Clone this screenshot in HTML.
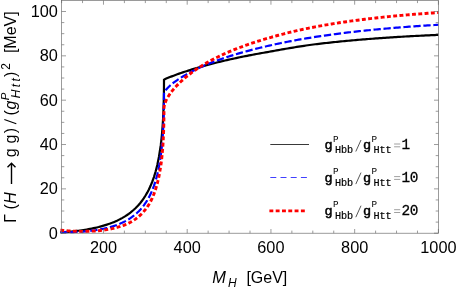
<!DOCTYPE html>
<html><head><meta charset="utf-8"><style>
html,body{margin:0;padding:0;background:#fff;}
body{width:458px;height:289px;overflow:hidden;}
svg{display:block;will-change:transform;font-family:"Liberation Sans",sans-serif;}
.mono{font-family:"Liberation Mono",monospace;}
.i{font-style:italic;}
.b{font-weight:bold;}
</style></head><body>
<svg width="458" height="289" viewBox="0 0 458 289">
<rect width="458" height="289" fill="#fff"/>
<defs><clipPath id="c"><rect x="60.2" y="0.5" width="378.6" height="233.8"/></clipPath></defs>
<g clip-path="url(#c)" fill="none" stroke-linejoin="miter">
<path d="M60.30,232.36 L61.60,232.36 L63.28,232.23 L64.96,232.10 L66.64,231.96 L68.31,231.82 L69.99,231.66 L71.67,231.49 L73.35,231.32 L75.03,231.13 L76.71,230.93 L78.39,230.72 L80.07,230.50 L81.74,230.27 L83.42,230.02 L85.10,229.76 L86.78,229.48 L88.46,229.19 L90.14,228.88 L91.82,228.55 L93.49,228.20 L95.17,227.84 L96.85,227.45 L98.53,227.05 L100.21,226.61 L101.89,226.16 L103.57,225.68 L105.25,225.17 L106.92,224.63 L108.60,224.06 L110.28,223.46 L111.96,222.83 L113.64,222.15 L115.32,221.43 L117.00,220.68 L118.67,219.87 L120.35,219.02 L122.03,218.11 L123.71,217.14 L125.39,216.10 L127.07,215.00 L128.75,213.82 L130.43,212.56 L132.10,211.21 L133.78,209.76 L135.46,208.19 L137.14,206.51 L138.82,204.68 L140.50,202.69 L142.18,200.53 L143.86,198.15 L145.53,195.55 L147.21,192.66 L148.89,189.45 L150.57,185.83 L152.25,181.74 L153.93,177.04 L155.61,171.54 L157.28,164.95 L158.96,156.75 L160.64,145.95 L160.75,145.08 L160.87,144.21 L160.97,143.33 L161.08,142.44 L161.19,141.55 L161.29,140.65 L161.39,139.74 L161.49,138.82 L161.59,137.90 L161.68,136.96 L161.77,136.02 L161.87,135.07 L161.96,134.11 L162.04,133.15 L162.13,132.17 L162.21,131.19 L162.29,130.20 L162.37,129.20 L162.45,128.19 L162.53,127.17 L162.60,126.15 L162.67,125.11 L162.74,124.07 L162.81,123.02 L162.88,121.96 L162.94,120.88 L163.01,119.80 L163.07,118.71 L163.13,117.61 L163.18,116.51 L163.24,115.39 L163.29,114.26 L163.34,113.12 L163.39,111.97 L163.44,110.82 L163.48,109.65 L163.53,108.47 L163.57,107.28 L163.61,106.08 L163.64,104.87 L163.68,103.65 L163.71,102.42 L163.74,101.18 L163.77,99.93 L163.80,98.67 L163.83,97.39 L163.85,96.11 L163.87,94.81 L163.90,93.50 L163.91,92.18 L163.93,90.85 L163.94,89.51 L163.96,88.16 L163.97,86.79 L163.98,85.41 L163.98,84.02 L163.99,82.62 L163.99,81.20 L163.99,79.77 L163.99,79.77 L164.41,79.48 L166.25,78.61 L168.09,77.83 L169.93,77.09 L171.77,76.37 L173.60,75.67 L175.44,74.98 L177.28,74.32 L179.12,73.66 L180.96,73.02 L182.80,72.40 L184.64,71.78 L186.48,71.17 L188.32,70.58 L190.15,70.00 L191.99,69.42 L193.83,68.86 L195.67,68.31 L197.51,67.76 L199.35,67.22 L201.19,66.70 L203.03,66.18 L204.87,65.67 L206.70,65.16 L208.54,64.67 L210.38,64.18 L212.22,63.70 L214.06,63.23 L215.90,62.76 L217.74,62.30 L219.58,61.85 L221.42,61.40 L223.25,60.96 L225.09,60.53 L226.93,60.11 L228.77,59.69 L230.61,59.27 L232.45,58.86 L234.29,58.46 L236.13,58.06 L237.97,57.67 L239.80,57.29 L241.64,56.91 L243.48,56.53 L245.32,56.16 L247.16,55.80 L249.00,55.44 L250.84,55.08 L252.68,54.73 L254.52,54.38 L256.35,54.04 L258.19,53.71 L260.03,53.37 L261.87,53.04 L263.71,52.71 L265.55,52.38 L267.39,52.05 L269.23,51.72 L271.06,51.38 L272.90,51.05 L274.74,50.72 L276.58,50.39 L278.42,50.07 L280.26,49.74 L282.10,49.42 L283.94,49.10 L285.78,48.78 L287.61,48.46 L289.45,48.15 L291.29,47.84 L293.13,47.54 L294.97,47.24 L296.81,46.94 L298.65,46.65 L300.49,46.36 L302.33,46.08 L304.16,45.80 L306.00,45.53 L307.84,45.27 L309.68,45.01 L311.52,44.76 L313.36,44.51 L315.20,44.28 L317.04,44.05 L318.88,43.83 L320.71,43.62 L322.55,43.41 L324.39,43.20 L326.23,43.00 L328.07,42.80 L329.91,42.60 L331.75,42.40 L333.59,42.21 L335.43,42.02 L337.26,41.83 L339.10,41.65 L340.94,41.46 L342.78,41.28 L344.62,41.11 L346.46,40.93 L348.30,40.76 L350.14,40.59 L351.98,40.42 L353.81,40.26 L355.65,40.09 L357.49,39.93 L359.33,39.77 L361.17,39.62 L363.01,39.46 L364.85,39.31 L366.69,39.16 L368.53,39.01 L370.36,38.87 L372.20,38.73 L374.04,38.59 L375.88,38.45 L377.72,38.31 L379.56,38.18 L381.40,38.05 L383.24,37.92 L385.08,37.79 L386.91,37.66 L388.75,37.54 L390.59,37.42 L392.43,37.30 L394.27,37.18 L396.11,37.06 L397.95,36.95 L399.79,36.84 L401.63,36.73 L403.46,36.62 L405.30,36.51 L407.14,36.41 L408.98,36.31 L410.82,36.21 L412.66,36.11 L414.50,36.01 L416.34,35.92 L418.18,35.82 L420.01,35.73 L421.85,35.64 L423.69,35.56 L425.53,35.47 L427.37,35.39 L429.21,35.30 L431.05,35.22 L432.89,35.15 L434.73,35.07 L436.56,34.99 L438.40,34.92" stroke="#000" stroke-width="2.2"/>
<path d="M60.30,232.21 L61.60,232.21 L63.28,232.22 L64.96,232.21 L66.64,232.20 L68.31,232.18 L69.99,232.15 L71.67,232.11 L73.35,232.07 L75.03,232.01 L76.71,231.94 L78.39,231.85 L80.07,231.76 L81.74,231.65 L83.42,231.53 L85.10,231.40 L86.78,231.25 L88.46,231.09 L90.14,230.91 L91.82,230.71 L93.49,230.49 L95.17,230.26 L96.85,230.01 L98.53,229.73 L100.21,229.43 L101.89,229.11 L103.57,228.77 L105.25,228.40 L106.92,228.00 L108.60,227.57 L110.28,227.11 L111.96,226.62 L113.64,226.09 L115.32,225.52 L117.00,224.91 L118.67,224.26 L120.35,223.56 L122.03,222.81 L123.71,222.00 L125.39,221.14 L127.07,220.20 L128.75,219.20 L130.43,218.12 L132.10,216.94 L133.78,215.68 L135.46,214.30 L137.14,212.81 L138.82,211.18 L140.50,209.41 L142.18,207.46 L143.86,205.33 L145.53,202.97 L147.21,200.35 L148.89,197.42 L150.57,194.10 L152.25,190.30 L153.93,185.91 L155.61,180.75 L157.28,174.53 L158.96,166.79 L160.64,156.57 L160.75,155.75 L160.87,154.92 L160.97,154.09 L161.08,153.25 L161.19,152.40 L161.29,151.54 L161.39,150.68 L161.49,149.81 L161.59,148.93 L161.68,148.05 L161.77,147.15 L161.87,146.25 L161.96,145.35 L162.04,144.43 L162.13,143.50 L162.21,142.57 L162.29,141.63 L162.37,140.68 L162.45,139.73 L162.53,138.76 L162.60,137.79 L162.67,136.81 L162.74,135.82 L162.81,134.82 L162.88,133.81 L162.94,132.80 L163.01,131.77 L163.07,130.74 L163.13,129.70 L163.18,128.65 L163.24,127.59 L163.29,126.52 L163.34,125.44 L163.39,124.35 L163.44,123.25 L163.48,122.14 L163.53,121.02 L163.57,119.90 L163.61,118.76 L163.64,117.61 L163.68,116.45 L163.71,115.29 L163.74,114.11 L163.77,112.92 L163.80,111.72 L163.83,110.51 L163.85,109.29 L163.87,108.06 L163.90,106.81 L163.91,105.56 L163.93,104.29 L163.94,103.02 L163.96,101.73 L163.97,100.43 L163.98,99.12 L163.98,97.79 L163.99,96.46 L163.99,95.11 L163.99,93.75 L163.99,93.75 L164.41,92.16 L166.25,89.42 L168.09,87.43 L169.93,85.71 L171.77,84.15 L173.60,82.70 L175.44,81.34 L177.28,80.04 L179.12,78.81 L180.96,77.63 L182.80,76.50 L184.64,75.40 L186.48,74.35 L188.32,73.33 L190.15,72.34 L191.99,71.38 L193.83,70.45 L195.67,69.55 L197.51,68.67 L199.35,67.81 L201.19,66.97 L203.03,66.16 L204.87,65.36 L206.70,64.59 L208.54,63.83 L210.38,63.09 L212.22,62.37 L214.06,61.66 L215.90,60.97 L217.74,60.29 L219.58,59.62 L221.42,58.97 L223.25,58.34 L225.09,57.71 L226.93,57.10 L228.77,56.50 L230.61,55.91 L232.45,55.33 L234.29,54.77 L236.13,54.21 L237.97,53.66 L239.80,53.12 L241.64,52.60 L243.48,52.08 L245.32,51.57 L247.16,51.07 L249.00,50.57 L250.84,50.09 L252.68,49.61 L254.52,49.14 L256.35,48.67 L258.19,48.22 L260.03,47.77 L261.87,47.32 L263.71,46.89 L265.55,46.46 L267.39,46.03 L269.23,45.62 L271.06,45.20 L272.90,44.80 L274.74,44.40 L276.58,44.00 L278.42,43.62 L280.26,43.23 L282.10,42.86 L283.94,42.49 L285.78,42.12 L287.61,41.76 L289.45,41.40 L291.29,41.05 L293.13,40.71 L294.97,40.37 L296.81,40.03 L298.65,39.70 L300.49,39.37 L302.33,39.05 L304.16,38.74 L306.00,38.43 L307.84,38.12 L309.68,37.82 L311.52,37.52 L313.36,37.23 L315.20,36.94 L317.04,36.66 L318.88,36.38 L320.71,36.11 L322.55,35.84 L324.39,35.57 L326.23,35.31 L328.07,35.05 L329.91,34.80 L331.75,34.55 L333.59,34.30 L335.43,34.06 L337.26,33.82 L339.10,33.58 L340.94,33.35 L342.78,33.12 L344.62,32.89 L346.46,32.67 L348.30,32.45 L350.14,32.23 L351.98,32.02 L353.81,31.81 L355.65,31.60 L357.49,31.39 L359.33,31.19 L361.17,30.99 L363.01,30.79 L364.85,30.60 L366.69,30.41 L368.53,30.22 L370.36,30.04 L372.20,29.85 L374.04,29.67 L375.88,29.50 L377.72,29.32 L379.56,29.15 L381.40,28.98 L383.24,28.81 L385.08,28.65 L386.91,28.48 L388.75,28.32 L390.59,28.16 L392.43,28.01 L394.27,27.85 L396.11,27.70 L397.95,27.55 L399.79,27.40 L401.63,27.26 L403.46,27.12 L405.30,26.98 L407.14,26.84 L408.98,26.70 L410.82,26.56 L412.66,26.43 L414.50,26.30 L416.34,26.17 L418.18,26.04 L420.01,25.92 L421.85,25.79 L423.69,25.67 L425.53,25.55 L427.37,25.44 L429.21,25.32 L431.05,25.20 L432.89,25.09 L434.73,24.98 L436.56,24.87 L438.40,24.76" stroke="#0000ff" stroke-width="2.2" stroke-dasharray="7.3 2.7"/>
<path d="M60.30,230.29 L61.60,230.29 L63.28,230.44 L64.96,230.58 L66.64,230.71 L68.31,230.83 L69.99,230.94 L71.67,231.04 L73.35,231.12 L75.03,231.20 L76.71,231.26 L78.39,231.31 L80.07,231.34 L81.74,231.36 L83.42,231.36 L85.10,231.34 L86.78,231.32 L88.46,231.28 L90.14,231.22 L91.82,231.15 L93.49,231.06 L95.17,230.95 L96.85,230.83 L98.53,230.69 L100.21,230.52 L101.89,230.34 L103.57,230.13 L105.25,229.90 L106.92,229.64 L108.60,229.35 L110.28,229.04 L111.96,228.69 L113.64,228.32 L115.32,227.90 L117.00,227.45 L118.67,226.97 L120.35,226.45 L122.03,225.88 L123.71,225.27 L125.39,224.61 L127.07,223.89 L128.75,223.10 L130.43,222.23 L132.10,221.29 L133.78,220.25 L135.46,219.11 L137.14,217.85 L138.82,216.47 L140.50,214.95 L142.18,213.27 L143.86,211.42 L145.53,209.35 L147.21,207.05 L148.89,204.45 L150.57,201.49 L152.25,198.05 L153.93,194.04 L155.61,189.31 L157.28,183.57 L158.96,176.38 L160.64,166.86 L160.75,166.09 L160.87,165.32 L160.97,164.54 L161.08,163.76 L161.19,162.96 L161.29,162.16 L161.39,161.35 L161.49,160.54 L161.59,159.71 L161.68,158.88 L161.77,158.05 L161.87,157.20 L161.96,156.35 L162.04,155.49 L162.13,154.63 L162.21,153.75 L162.29,152.87 L162.37,151.98 L162.45,151.09 L162.53,150.18 L162.60,149.27 L162.67,148.35 L162.74,147.42 L162.81,146.49 L162.88,145.54 L162.94,144.59 L163.01,143.63 L163.07,142.66 L163.13,141.68 L163.18,140.69 L163.24,139.70 L163.29,138.69 L163.34,137.68 L163.39,136.66 L163.44,135.63 L163.48,134.59 L163.53,133.54 L163.57,132.48 L163.61,131.41 L163.64,130.33 L163.68,129.24 L163.71,128.15 L163.74,127.04 L163.77,125.92 L163.80,124.79 L163.83,123.65 L163.85,122.50 L163.87,121.34 L163.90,120.17 L163.91,118.99 L163.93,117.80 L163.94,116.60 L163.96,115.38 L163.97,114.16 L163.98,112.92 L163.98,111.67 L163.99,110.41 L163.99,109.14 L163.99,107.85 L163.99,107.85 L164.41,104.83 L166.25,100.03 L168.09,96.72 L169.93,93.93 L171.77,91.46 L173.60,89.19 L175.44,87.09 L177.28,85.12 L179.12,83.26 L180.96,81.50 L182.80,79.82 L184.64,78.21 L186.48,76.67 L188.32,75.19 L190.15,73.76 L191.99,72.38 L193.83,71.06 L195.67,69.77 L197.51,68.53 L199.35,67.32 L201.19,66.15 L203.03,65.02 L204.87,63.92 L206.70,62.85 L208.54,61.80 L210.38,60.79 L212.22,59.80 L214.06,58.84 L215.90,57.90 L217.74,56.98 L219.58,56.09 L221.42,55.22 L223.25,54.36 L225.09,53.53 L226.93,52.72 L228.77,51.92 L230.61,51.14 L232.45,50.38 L234.29,49.63 L236.13,48.90 L237.97,48.18 L239.80,47.48 L241.64,46.79 L243.48,46.11 L245.32,45.45 L247.16,44.80 L249.00,44.16 L250.84,43.54 L252.68,42.92 L254.52,42.31 L256.35,41.72 L258.19,41.13 L260.03,40.56 L261.87,39.99 L263.71,39.43 L265.55,38.88 L267.39,38.34 L269.23,37.81 L271.06,37.28 L272.90,36.76 L274.74,36.25 L276.58,35.75 L278.42,35.26 L280.26,34.77 L282.10,34.29 L283.94,33.82 L285.78,33.35 L287.61,32.89 L289.45,32.44 L291.29,32.00 L293.13,31.56 L294.97,31.13 L296.81,30.70 L298.65,30.29 L300.49,29.88 L302.33,29.48 L304.16,29.08 L306.00,28.69 L307.84,28.31 L309.68,27.94 L311.52,27.57 L313.36,27.21 L315.20,26.86 L317.04,26.51 L318.88,26.17 L320.71,25.84 L322.55,25.51 L324.39,25.19 L326.23,24.87 L328.07,24.56 L329.91,24.26 L331.75,23.95 L333.59,23.66 L335.43,23.36 L337.26,23.08 L339.10,22.79 L340.94,22.51 L342.78,22.24 L344.62,21.97 L346.46,21.70 L348.30,21.44 L350.14,21.18 L351.98,20.93 L353.81,20.68 L355.65,20.43 L357.49,20.19 L359.33,19.95 L361.17,19.72 L363.01,19.48 L364.85,19.26 L366.69,19.03 L368.53,18.81 L370.36,18.59 L372.20,18.38 L374.04,18.17 L375.88,17.96 L377.72,17.76 L379.56,17.56 L381.40,17.36 L383.24,17.16 L385.08,16.97 L386.91,16.78 L388.75,16.60 L390.59,16.42 L392.43,16.24 L394.27,16.06 L396.11,15.88 L397.95,15.71 L399.79,15.54 L401.63,15.38 L403.46,15.21 L405.30,15.05 L407.14,14.89 L408.98,14.74 L410.82,14.59 L412.66,14.43 L414.50,14.29 L416.34,14.14 L418.18,14.00 L420.01,13.86 L421.85,13.72 L423.69,13.58 L425.53,13.45 L427.37,13.31 L429.21,13.18 L431.05,13.06 L432.89,12.93 L434.73,12.81 L436.56,12.69 L438.40,12.57" stroke="#ff0000" stroke-width="2.9" stroke-dasharray="3.9 2.4"/>
</g>
<g fill="none" stroke="#666" stroke-width="0.65">
<rect x="61.6" y="0.5" width="376.8" height="232.7"/>
<path d="M61.60,233.20v-2.60M61.60,0.50v2.60M82.53,233.20v-2.60M82.53,0.50v2.60M103.47,233.20v-4.20M103.47,0.50v4.20M124.40,233.20v-2.60M124.40,0.50v2.60M145.33,233.20v-2.60M145.33,0.50v2.60M166.27,233.20v-2.60M166.27,0.50v2.60M187.20,233.20v-4.20M187.20,0.50v4.20M208.13,233.20v-2.60M208.13,0.50v2.60M229.07,233.20v-2.60M229.07,0.50v2.60M250.00,233.20v-2.60M250.00,0.50v2.60M270.94,233.20v-4.20M270.94,0.50v4.20M291.87,233.20v-2.60M291.87,0.50v2.60M312.80,233.20v-2.60M312.80,0.50v2.60M333.74,233.20v-2.60M333.74,0.50v2.60M354.67,233.20v-4.20M354.67,0.50v4.20M375.60,233.20v-2.60M375.60,0.50v2.60M396.54,233.20v-2.60M396.54,0.50v2.60M417.47,233.20v-2.60M417.47,0.50v2.60M438.40,233.20v-4.20M438.40,0.50v4.20M61.60,233.20h4.40M438.40,233.20h-4.40M61.60,222.11h2.70M438.40,222.11h-2.70M61.60,211.03h2.70M438.40,211.03h-2.70M61.60,199.94h2.70M438.40,199.94h-2.70M61.60,188.86h4.40M438.40,188.86h-4.40M61.60,177.77h2.70M438.40,177.77h-2.70M61.60,166.69h2.70M438.40,166.69h-2.70M61.60,155.60h2.70M438.40,155.60h-2.70M61.60,144.52h4.40M438.40,144.52h-4.40M61.60,133.44h2.70M438.40,133.44h-2.70M61.60,122.35h2.70M438.40,122.35h-2.70M61.60,111.26h2.70M438.40,111.26h-2.70M61.60,100.18h4.40M438.40,100.18h-4.40M61.60,89.09h2.70M438.40,89.09h-2.70M61.60,78.01h2.70M438.40,78.01h-2.70M61.60,66.92h2.70M438.40,66.92h-2.70M61.60,55.84h4.40M438.40,55.84h-4.40M61.60,44.75h2.70M438.40,44.75h-2.70M61.60,33.67h2.70M438.40,33.67h-2.70M61.60,22.58h2.70M438.40,22.58h-2.70M61.60,11.50h4.40M438.40,11.50h-4.40"/>
</g>
<g font-size="16.3" fill="#000"><text x="103.5" y="253" text-anchor="middle">200</text><text x="187.2" y="253" text-anchor="middle">400</text><text x="270.9" y="253" text-anchor="middle">600</text><text x="354.7" y="253" text-anchor="middle">800</text><text x="438.4" y="253" text-anchor="middle">1000</text><text x="57.9" y="238.5" text-anchor="end">0</text><text x="57.9" y="194.2" text-anchor="end">20</text><text x="57.9" y="149.8" text-anchor="end">40</text><text x="57.9" y="105.5" text-anchor="end">60</text><text x="57.9" y="61.1" text-anchor="end">80</text><text x="57.9" y="16.8" text-anchor="end">100</text></g>
<!-- x label -->
<g font-size="16" fill="#000">
<text x="212.2" y="283" class="i" font-size="16.4">M</text>
<text x="228.0" y="286.5" class="i" font-size="12">H</text>
<text x="246.4" y="283">[GeV]</text>
</g>
<!-- y label -->
<g transform="translate(16.3,222.8) rotate(-90)" font-size="16" fill="#000">
<text x="0" y="0">Γ</text>
<text x="13.4" y="0">(</text>
<text x="19.0" y="0" class="i">H</text>
<path d="M38.8,-4.8H59.6M55.6,-8.8L59.6,-4.8L55.6,-0.8" fill="none" stroke="#000" stroke-width="1.4"/>
<text x="65.6" y="0">g</text>
<text x="79.3" y="0">g</text>
<text x="89.5" y="0">)</text>
<path d="M99.0,0L103.3,-12.0" fill="none" stroke="#000" stroke-width="1.15"/>
<text x="107.3" y="0">(</text>
<text x="113.4" y="0" class="i">g</text>
<text x="122.6" y="-7.7" class="i" font-size="11.4">P</text>
<text x="124.6" y="4" class="i" font-size="12">H</text>
<text x="135.5" y="4" class="i" font-size="12">t</text>
<text x="141.2" y="4" class="i" font-size="12">t</text>
<text x="145.9" y="0">)</text>
<text x="153.0" y="-6.4" font-size="12">2</text>
<text x="169.7" y="0">[MeV]</text>
</g>
<!-- legend -->
<g fill="none">
<path d="M270.3,144.5H309" stroke="#222" stroke-width="0.9"/>
<path d="M270.3,177.5H308" stroke="#4040ff" stroke-width="1" stroke-dasharray="6 4.2"/>
<path d="M269.4,210.9H305.2" stroke="#ff0000" stroke-width="2.9" stroke-dasharray="3.9 2.4"/>
</g>
<g class="mono" font-size="13.7" fill="#000">
<text x="324.4" y="148.9" stroke="#000" stroke-width="0.5" font-size="13.5">g</text><text x="332.9" y="141.7" font-size="9.3">P</text><text x="334.9" y="153.1" stroke="#000" stroke-width="0.2" font-size="10.2">Hbb</text><path d="M355.8,151.5L361,140.0" stroke="#444" stroke-width="0.9" fill="none"/><text x="363" y="148.9" stroke="#000" stroke-width="0.5" font-size="13.5">g</text><text x="371.4" y="141.7" font-size="9.3">P</text><text x="373.4" y="153.1" stroke="#000" stroke-width="0.2" font-size="10.2">Htt</text><path d="M394.1,144.0h6.1M394.1,146.8h6.1" stroke="#888" stroke-width="0.8" fill="none"/><text x="401.5" y="148.9" stroke="#000" stroke-width="0.28" font-size="14.4" letter-spacing="-0.45">1</text><text x="324.4" y="181.5" stroke="#000" stroke-width="0.5" font-size="13.5">g</text><text x="332.9" y="174.3" font-size="9.3">P</text><text x="334.9" y="185.7" stroke="#000" stroke-width="0.2" font-size="10.2">Hbb</text><path d="M355.8,184.1L361,172.6" stroke="#444" stroke-width="0.9" fill="none"/><text x="363" y="181.5" stroke="#000" stroke-width="0.5" font-size="13.5">g</text><text x="371.4" y="174.3" font-size="9.3">P</text><text x="373.4" y="185.7" stroke="#000" stroke-width="0.2" font-size="10.2">Htt</text><path d="M394.1,176.6h6.1M394.1,179.4h6.1" stroke="#888" stroke-width="0.8" fill="none"/><text x="401.5" y="181.5" stroke="#000" stroke-width="0.28" font-size="14.4" letter-spacing="-0.45">10</text><text x="324.4" y="214.6" stroke="#000" stroke-width="0.5" font-size="13.5">g</text><text x="332.9" y="207.4" font-size="9.3">P</text><text x="334.9" y="218.8" stroke="#000" stroke-width="0.2" font-size="10.2">Hbb</text><path d="M355.8,217.2L361,205.7" stroke="#444" stroke-width="0.9" fill="none"/><text x="363" y="214.6" stroke="#000" stroke-width="0.5" font-size="13.5">g</text><text x="371.4" y="207.4" font-size="9.3">P</text><text x="373.4" y="218.8" stroke="#000" stroke-width="0.2" font-size="10.2">Htt</text><path d="M394.1,209.7h6.1M394.1,212.5h6.1" stroke="#888" stroke-width="0.8" fill="none"/><text x="401.5" y="214.6" stroke="#000" stroke-width="0.28" font-size="14.4" letter-spacing="-0.45">20</text>
</g>
</svg>
</body></html>
